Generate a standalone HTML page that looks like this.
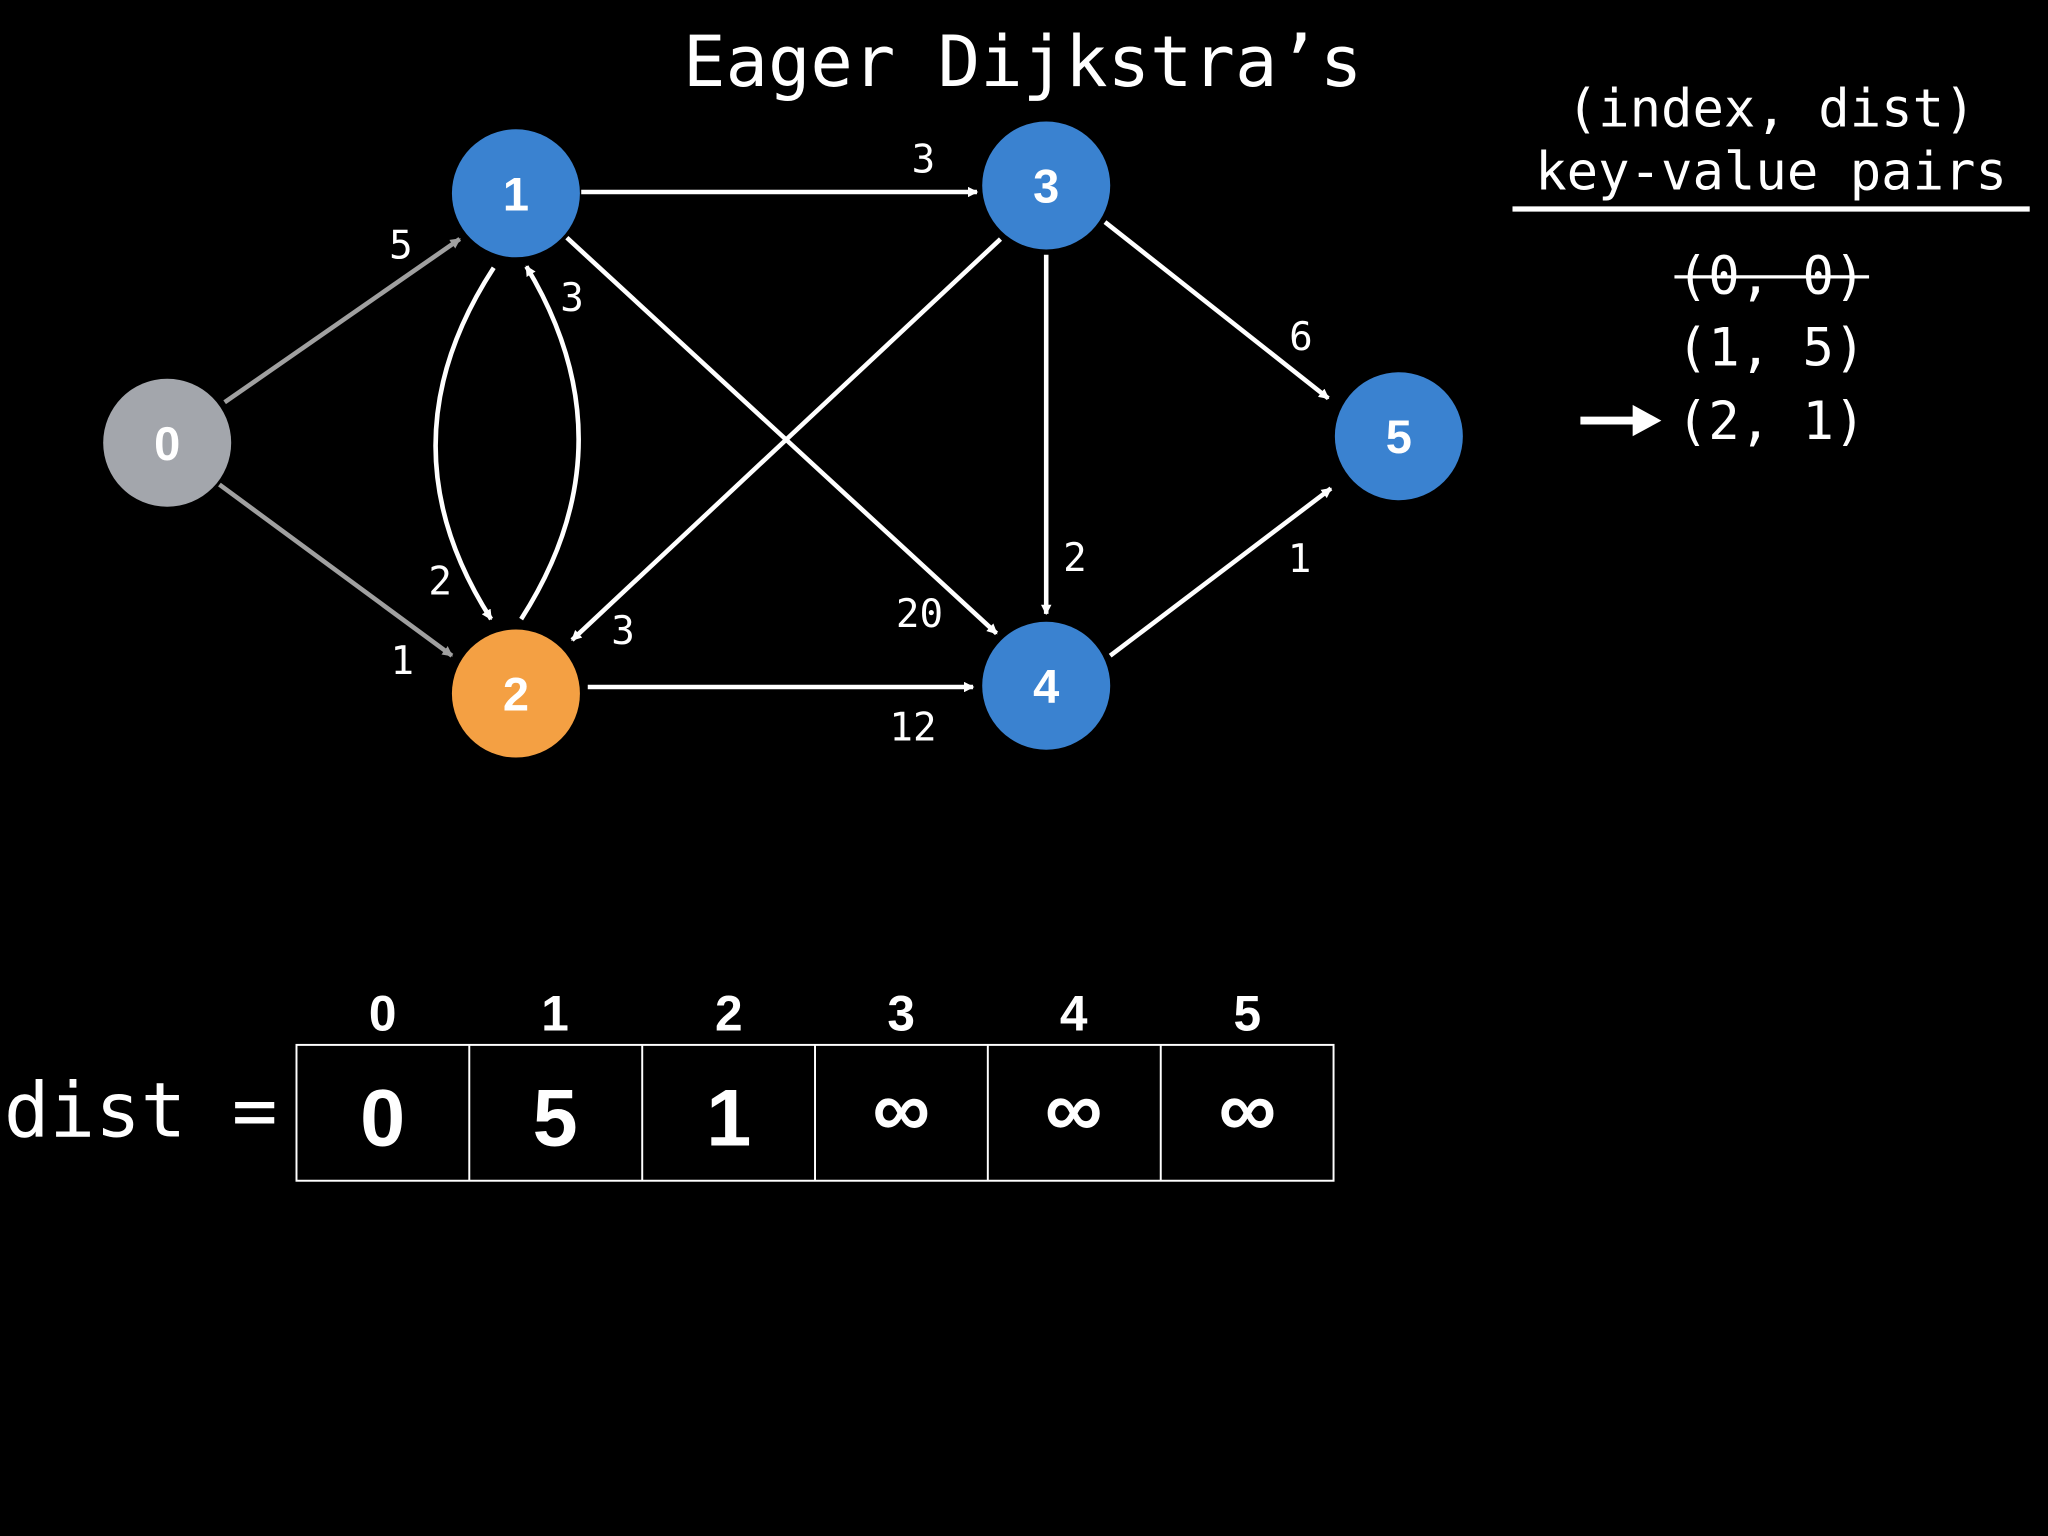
<!DOCTYPE html>
<html><head><meta charset="utf-8"><style>
html,body{margin:0;padding:0;background:#000;}
svg{display:block}
.m{font-family:"DejaVu Sans Mono","Liberation Mono",monospace;fill:#fff}
.s{font-family:"Liberation Sans",sans-serif;font-weight:bold;fill:#fff}
</style></head><body>
<svg width="2048" height="1536" viewBox="0 0 1568 1176" xmlns="http://www.w3.org/2000/svg">
<defs>
<marker id="aw" markerWidth="8" markerHeight="8" refX="7" refY="4" orient="auto" markerUnits="userSpaceOnUse" viewBox="0 0 8 8"><path d="M0,0 L8,4 L0,8 z" fill="#fff"/></marker>
<marker id="ag" markerWidth="8" markerHeight="8" refX="7" refY="4" orient="auto" markerUnits="userSpaceOnUse" viewBox="0 0 8 8"><path d="M0,0 L8,4 L0,8 z" fill="#a0a0a0"/></marker>
</defs>
<rect width="1568" height="1176" fill="#000"/>
<text class="m" x="783" y="66" font-size="54" text-anchor="middle">Eager Dijkstra’s</text>

<g stroke-width="3.5" fill="none">
<g stroke="#a0a0a0">
<line x1="172" y1="308" x2="352" y2="183" marker-end="url(#ag)" stroke-width="3.5"/>
<line x1="168" y1="371" x2="346" y2="502" marker-end="url(#ag)"/>
</g>
<g stroke="#fff">
<line x1="445" y1="147" x2="748" y2="147" marker-end="url(#aw)"/>
<path d="M378,205 Q290,340 376,474" marker-end="url(#aw)"/>
<path d="M399,474 Q485,340 403,204" marker-end="url(#aw)"/>
<line x1="434" y1="182" x2="763" y2="485" marker-end="url(#aw)"/>
<line x1="766" y1="183" x2="438" y2="490" marker-end="url(#aw)"/>
<line x1="801" y1="195" x2="801" y2="470" marker-end="url(#aw)"/>
<line x1="846" y1="170" x2="1017" y2="305" marker-end="url(#aw)"/>
<line x1="450" y1="526" x2="745" y2="526" marker-end="url(#aw)"/>
<line x1="850" y1="502" x2="1019" y2="374" marker-end="url(#aw)"/>
</g>
</g>

<g class="m" font-size="30" text-anchor="middle">
<text x="307" y="198">5</text>
<text x="308" y="516">1</text>
<text x="707" y="132">3</text>
<text x="337" y="455">2</text>
<text x="438" y="238">3</text>
<text x="704" y="480">20</text>
<text x="477" y="493">3</text>
<text x="823" y="437">2</text>
<text x="996" y="268">6</text>
<text x="699" y="567">12</text>
<text x="995" y="438">1</text>
</g>

<g>
<circle cx="128" cy="339" r="49" fill="#a3a6ac"/>
<circle cx="395" cy="148" r="49" fill="#3a82d0"/>
<circle cx="395" cy="531" r="49" fill="#f4a043"/>
<circle cx="801" cy="142" r="49" fill="#3a82d0"/>
<circle cx="801" cy="525" r="49" fill="#3a82d0"/>
<circle cx="1071" cy="334" r="49" fill="#3a82d0"/>
</g>
<g class="s" font-size="36" text-anchor="middle">
<text x="128" y="352">0</text>
<text x="395" y="161">1</text>
<text x="395" y="544">2</text>
<text x="801" y="155">3</text>
<text x="801" y="538">4</text>
<text x="1071" y="347">5</text>
</g>

<g class="m" font-size="40" text-anchor="middle">
<text x="1356" y="97">(index, dist)</text>
<text x="1356" y="145">key-value pairs</text>
<text x="1356" y="225">(0, 0)</text>
<text x="1356" y="280">(1, 5)</text>
<text x="1356" y="336">(2, 1)</text>
</g>
<line x1="1158" y1="160" x2="1554" y2="160" stroke="#fff" stroke-width="4"/>
<line x1="1282" y1="212" x2="1431" y2="212" stroke="#fff" stroke-width="2.5"/>
<line x1="1210" y1="322" x2="1252" y2="322" stroke="#fff" stroke-width="6"/>
<path d="M1250,310 L1272,322 L1250,334 z" fill="#fff"/>

<text class="m" x="3" y="870" font-size="58">dist =</text>
<g fill="none" stroke="#fff" stroke-width="1.5">
<rect x="227" y="800" width="794" height="104"/>
<line x1="359.3" y1="800" x2="359.3" y2="904"/>
<line x1="491.7" y1="800" x2="491.7" y2="904"/>
<line x1="624" y1="800" x2="624" y2="904"/>
<line x1="756.3" y1="800" x2="756.3" y2="904"/>
<line x1="888.7" y1="800" x2="888.7" y2="904"/>
</g>
<g class="s" font-size="38" text-anchor="middle">
<text x="293" y="789">0</text><text x="425" y="789">1</text><text x="558" y="789">2</text>
<text x="690" y="789">3</text><text x="822" y="789">4</text><text x="955" y="789">5</text>
</g>
<g class="s" font-size="62" text-anchor="middle">
<text x="293" y="877">0</text><text x="425" y="877">5</text><text x="558" y="877">1</text>
<text x="690" y="870">∞</text><text x="822" y="870">∞</text><text x="955" y="870">∞</text>
</g>
</svg>
</body></html>
